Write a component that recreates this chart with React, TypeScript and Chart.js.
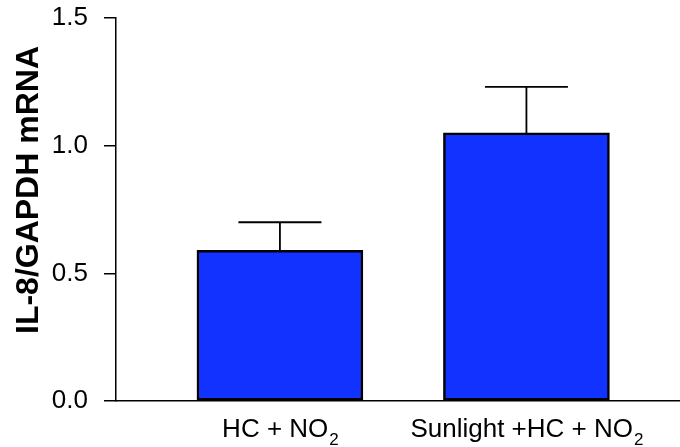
import React, { useEffect, useRef } from "react";
import { Chart, registerables } from "chart.js";

Chart.register(...registerables);

const categories = ["HC + NO", "Sunlight +HC + NO"];
const subscripts = ["2", "2"];
const means = [0.59, 1.05];
const upperErrors = [0.11, 0.18];
const yTicks = [0, 0.5, 1.0, 1.5];
const yTitle = "IL-8/GAPDH mRNA";

const FONT = "'Liberation Sans', Arial, Helvetica, sans-serif";

const overlayPlugin = {
  id: "overlay",
  afterDatasetsDraw(chart: any) {
    const { ctx } = chart;
    const meta = chart.getDatasetMeta(0);
    const yScale = chart.scales.y;
    ctx.save();
    // error bars
    meta.data.forEach((bar: any, i: number) => {
      const top = yScale.getPixelForValue(means[i] + upperErrors[i]);
      const base = yScale.getPixelForValue(means[i]);
      const half = bar.width / 4;
      ctx.strokeStyle = "#000";
      ctx.lineWidth = 1.8;
      ctx.beginPath();
      ctx.moveTo(bar.x, base);
      ctx.lineTo(bar.x, top);
      ctx.moveTo(bar.x - half, top);
      ctx.lineTo(bar.x + half, top);
      ctx.stroke();
    });
    // category labels with subscripts
    meta.data.forEach((bar: any, i: number) => {
      const mainFont = `26px ${FONT}`;
      const subFont = `17px ${FONT}`;
      ctx.font = mainFont;
      const w1 = ctx.measureText(categories[i]).width;
      ctx.font = subFont;
      const w2 = ctx.measureText(subscripts[i]).width;
      const start = bar.x - (w1 + w2) / 2;
      const baseline = chart.chartArea.bottom + 36;
      ctx.fillStyle = "#000";
      ctx.textAlign = "left";
      ctx.textBaseline = "alphabetic";
      ctx.font = mainFont;
      ctx.fillText(categories[i], start, baseline);
      ctx.font = subFont;
      ctx.fillText(subscripts[i], start + w1 + 1, baseline + 8);
    });
    // y title
    ctx.translate(29, 190);
    ctx.rotate(-Math.PI / 2);
    ctx.font = `bold 32px ${FONT}`;
    ctx.textAlign = "center";
    ctx.textBaseline = "middle";
    ctx.fillStyle = "#000";
    ctx.fillText(yTitle, 0, 0);
    ctx.restore();
  },
};

export default function App() {
  const ref = useRef<HTMLCanvasElement | null>(null);
  useEffect(() => {
    if (!ref.current) return;
    const chart = new Chart(ref.current, {
      type: "bar",
      data: {
        datasets: [
          {
            data: means.map((v, i) => ({ x: i + 1, y: v })),
            backgroundColor: "#1232FF",
            borderColor: "#000",
            borderWidth: 2.5,
            borderSkipped: false,
            barThickness: 166,
          },
        ],
      },
      options: {
        animation: false,
        responsive: false,
        maintainAspectRatio: false,
        layout: { padding: { top: 18, right: 0, left: 0, bottom: 0 } },
        plugins: { legend: { display: false }, tooltip: { enabled: false } },
        scales: {
          x: {
            type: "linear",
            offset: false,
            min: 0.335,
            max: 2.623,
            grid: { display: false, drawTicks: false },
            border: { display: true, color: "#000", width: 1.5 },
            ticks: { display: false },
            afterFit: (s: any) => {
              s.height = 46;
              s.paddingLeft = 0;
              s.paddingRight = 0;
            },
          },
          y: {
            min: 0,
            max: 1.5,
            afterBuildTicks: (s: any) => {
              s.ticks = yTicks.map((v) => ({ value: v }));
            },
            ticks: {
              color: "#000",
              padding: 16,
              font: { family: FONT, size: 26 },
              callback: (v: any) => Number(v).toFixed(1),
            },
            grid: {
              display: true,
              drawOnChartArea: false,
              drawTicks: true,
              tickLength: 12,
              color: "#000",
              lineWidth: 1.5,
            },
            border: { display: true, color: "#000", width: 1.5 },
            afterFit: (s: any) => {
              s.width = 116;
              s.paddingTop = 0;
              s.paddingBottom = 0;
            },
          },
        },
      },
      plugins: [overlayPlugin],
    } as any);
    return () => chart.destroy();
  }, []);
  return (
    <div style={{ position: "fixed", left: 0, top: 0, width: 680, height: 447, background: "#fff" }}>
      <canvas ref={ref} width={680} height={447} style={{ display: "block" }} />
    </div>
  );
}
